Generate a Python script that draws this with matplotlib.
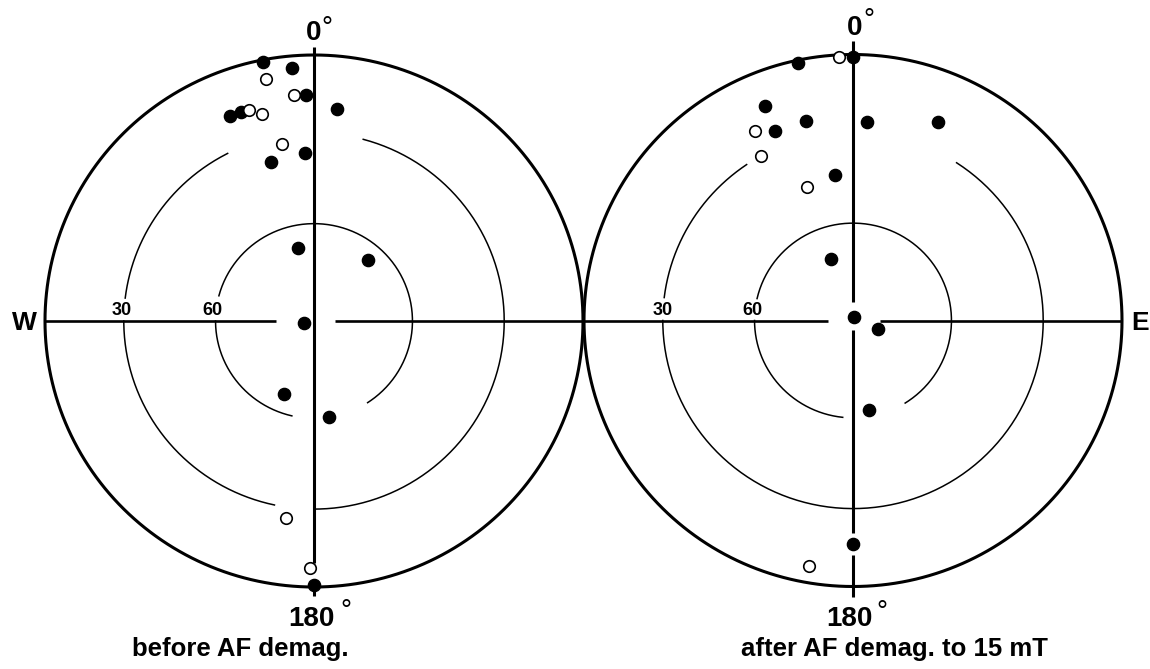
import numpy as np
import matplotlib.pyplot as plt

# palaeomagnetic directions, read off the two nets
# negative inclination = upper hemisphere (open symbol)
before_dec = [349, 355, 349, 355, 358, 6, 338, 341, 343, 346, 350,
              357, 345, 348, 261, 202, 188, 41, 171, 181, 180]
before_inc = [1, 5, -8, -16, 16, 21, 18, 18, -18, -21, -33,
              37, 38, 67, 87, 66, -26, 65, 60, -8, 1]

after_dec = [0, 357, 348, 338, 347, 4, 23, 333, 338, 331, 353,
             341, 341, 10, 110, 170, 180, 190]
after_inc = [1, -1, 1, 14, 24, 26, 20, -21, 24, -30, 44,
             -46, 70, 89, 82, 62, 17, -7]

captions = ['before AF demag.', 'after AF demag. to 15 mT']
ring_labels = ['30', '60']
ring_incs = [30, 60]

SX, SY = 269, 266
BOLD = 'Liberation Sans'


def proj(dec, inc, cx, cy):
    # equal-area (Schmidt) projection
    d = np.radians(np.asarray(dec, float))
    i = np.abs(np.asarray(inc, float))
    r = np.sqrt(2) * np.sin(np.radians(90 - i) / 2)
    return cx + SX * r * np.sin(d), cy - SY * r * np.cos(d)


nets = [
    dict(cx=314, cy=321, dec=before_dec, inc=before_inc, cap=captions[0], capx=240,
         arcs={30: [(15, 180), (192, 270), (277, 333)], 60: [(-75, 147), (193, 270)]},
         hseg=[(-1, -0.141), (0.078, 1)],
         vseg=[(1.03, -0.91), (-0.99, -1.034)],
         zero=(313.5, 40), zdeg=(321.5, 21), s180=(311.5, 626), sdeg=(340, 604),
         lab=[(122, 315), (212, 315)], side=('W', 24)),
    dict(cx=853, cy=320.5, dec=after_dec, inc=after_inc, cap=captions[1], capx=894,
         arcs={30: [(33, 270), (277, 326)], 60: [(-77, 148), (186, 270)]},
         hseg=[(-1, -0.092), (0.10, 1)],
         vseg=[(1.05, 1.01), (0.972, 0.07), (-0.036, -0.80), (-0.88, -1.04)],
         zero=(855, 35), zdeg=(863, 13), s180=(849.5, 626), sdeg=(876, 605),
         lab=[(662.5, 315), (752, 315)], side=('E', 1140)),
]

fig = plt.figure(figsize=(11.5, 6.69), dpi=100)
ax = fig.add_axes([0, 0, 1, 1])
ax.set_xlim(0, 1150)
ax.set_ylim(669, 0)
ax.axis('off')

for n in nets:
    cx, cy = n['cx'], n['cy']
    # primitive circle
    t = np.linspace(0, 360, 721)
    x, y = proj(t, np.zeros_like(t), cx, cy)
    ax.plot(x, y, color='black', lw=2.2, solid_capstyle='butt')
    # 30 and 60 degree inclination circles, broken where data sit
    for inc_lvl in ring_incs:
        for a, b in n['arcs'][inc_lvl]:
            t = np.linspace(a, b, 300)
            x, y = proj(t, np.full_like(t, inc_lvl), cx, cy)
            ax.plot(x, y, color='black', lw=1.1)
    # E-W and N-S axes
    for a, b in n['hseg']:
        ax.plot([cx + SX * a, cx + SX * b], [cy, cy], color='black', lw=1.9,
                solid_capstyle='butt')
    for a, b in n['vseg']:
        ax.plot([cx, cx], [cy - SY * a, cy - SY * b], color='black', lw=2.2,
                solid_capstyle='butt')
    # data
    dec = np.array(n['dec'])
    inc = np.array(n['inc'])
    x, y = proj(dec, inc, cx, cy)
    low = inc >= 0
    ax.plot(x[low], y[low], 'o', ms=8.8, mfc='black', mec='black', zorder=5)
    ax.plot(x[~low], y[~low], 'o', ms=8.3, mfc='white', mec='black', mew=1.2, zorder=5)

    # labels
    ax.text(*n['zero'], '0', fontsize=20, fontweight='bold', family=BOLD,
            ha='center', va='baseline')
    ax.text(n['zdeg'][0], n['zdeg'][1] + 15, '°', fontsize=20, family=BOLD,
            ha='left', va='baseline')
    ax.text(*n['s180'], '180', fontsize=20, fontweight='bold', family=BOLD,
            ha='center', va='baseline')
    ax.text(n['sdeg'][0], n['sdeg'][1] + 15, '°', fontsize=20, family=BOLD,
            ha='left', va='baseline')
    for (lx, ly), s in zip(n['lab'], ring_labels):
        ax.text(lx, ly, s, fontsize=13, fontweight='bold', family=BOLD,
                ha='center', va='baseline')
    ax.text(n['side'][1], 330, n['side'][0], fontsize=19, fontweight='bold', family=BOLD,
            ha='center', va='baseline')
    ax.text(n['capx'], 656, n['cap'], fontsize=18.5, fontweight='bold', family=BOLD,
            ha='center', va='baseline')

fig.savefig('out.png', dpi=100, facecolor='white')
